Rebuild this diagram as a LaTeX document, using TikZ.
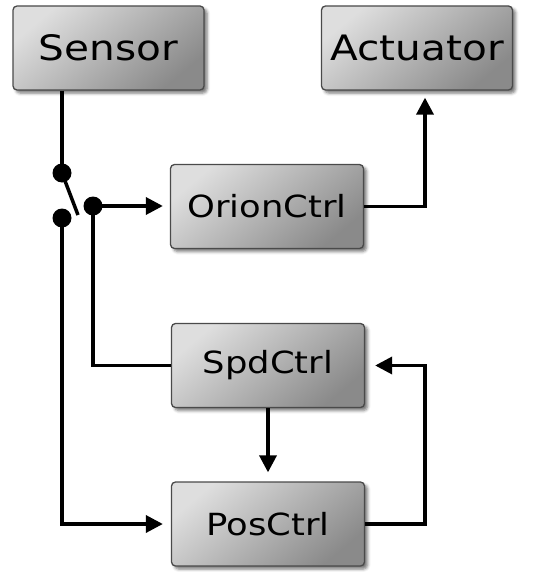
\documentclass[tikz,border=0pt]{standalone}
\usepackage{fontspec}
\setmainfont{DejaVu Sans}[FakeStretch=1.16]
\usetikzlibrary{arrows.meta,shadows.blur}
\definecolor{boxlight}{HTML}{DEDEDE}
\definecolor{boxdark}{HTML}{8A8A8A}
\definecolor{boxedge}{HTML}{4A4A4A}
\tikzset{
  block/.style={draw=boxedge, line width=1.3pt, rounded corners=4pt,
    top color=boxlight, bottom color=boxdark, shading angle=40,
    minimum width=193pt, minimum height=84pt, inner sep=0pt,
    blur shadow={shadow xshift=3pt, shadow yshift=-3pt,
      shadow blur radius=3pt, shadow opacity=55}},
  bigblock/.style={block, minimum width=191pt, font=\fontsize{35}{40}\selectfont},
  ctrlblock/.style={block, font=\fontsize{30.5}{36}\selectfont},
  dot/.style={circle, fill=black, minimum size=19pt, inner sep=0pt},
  wire/.style={line width=3.5pt},
  flow/.style={wire, -{Triangle[length=17pt, width=17pt]}},
}
\begin{document}
\begin{tikzpicture}[x=1pt, y=-1pt]
  \useasboundingbox (0,0) rectangle (532,572);

  % blocks
  \node[bigblock] (sensor) at (108.5,48) {Sensor};
  \node[bigblock] (act)    at (417,48)   {Actuator};
  \node[ctrlblock] (orion) at (267,206.5) {OrionCtrl};
  \node[ctrlblock] (spd)   at (268,365.5) {SpdCtrl};
  \node[ctrlblock] (pos)   at (268,524)   {PosCtrl};

  % switch contacts
  \node[dot] (s1) at (62,173) {};
  \node[dot] (s2) at (62,218) {};
  \node[dot] (s3) at (93,206) {};
  \coordinate (lever) at (78,215);

  % sensor into the switch
  \draw[wire] (s1 |- sensor.south) -- (s1.center);
  \draw[wire] (s1.center) -- (lever);

  % switch outputs
  \draw[flow, shorten >=7pt] (s3.center) -- (s3 -| orion.west);
  \draw[wire] (s3.center) -- (s3 |- spd.west) -- (spd.west);
  \draw[flow, shorten >=8pt] (s2.center) -- (s2 |- pos.west) -- (pos.west);

  % controller chain
  \draw[flow, shorten >=7pt] (orion.east) -| ([xshift=8pt]act.south);
  \draw[flow, shorten >=9pt] (spd.south) -- (pos.north);
  \draw[flow, shorten >=10pt] (pos.east) -- ++(60,0) |- (spd.east);
\end{tikzpicture}
\end{document}
